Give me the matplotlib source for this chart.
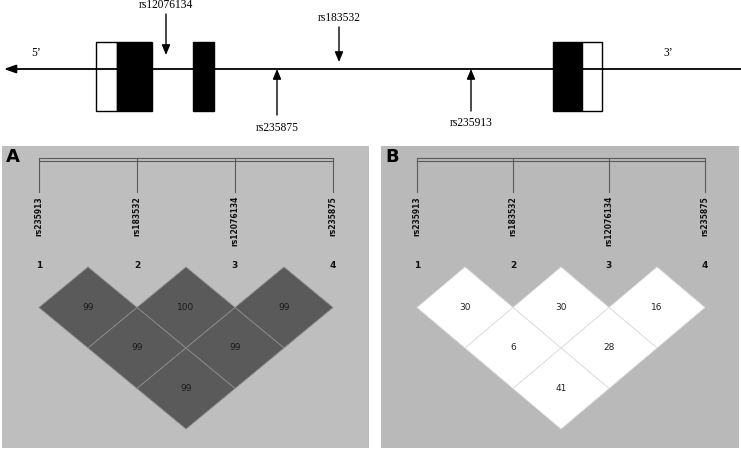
import numpy as np
import matplotlib
matplotlib.use('Agg')
import matplotlib.pyplot as plt
from matplotlib.patches import Polygon, Rectangle

# --- data ---
snp_names = ['rs235913', 'rs183532', 'rs12076134', 'rs235875']
ld_pairs = [(0, 1), (1, 2), (2, 3), (0, 2), (1, 3), (0, 3)]
ld_A = [99, 100, 99, 99, 99, 99]     # D'
ld_B = [30, 30, 16, 6, 28, 41]       # r^2

# gene diagram (pixel positions along the drawn line)
exons = [(96, 117, 'white'), (117, 152, 'black'), (193, 214, 'black'),
         (553, 582, 'black'), (582, 602, 'white')]
gene_snps_above = [('rs12076134', 166, 14, 55, 5), ('rs183532', 339, 27, 62, 18)]
gene_snps_below = [('rs235875', 277, 115, 128), ('rs235913', 471, 111, 123)]

W, H = 741, 449
fig = plt.figure(figsize=(W / 100, H / 100), dpi=100)
ax = fig.add_axes([0, 0, 1, 1])
ax.set_xlim(0, W)
ax.set_ylim(H, 0)
ax.axis('off')

serif = 'Liberation Serif'

# gene line with arrow to the left
line_y = 69
ax.annotate('', xy=(4, line_y), xytext=(741, line_y),
            arrowprops=dict(arrowstyle='-|>,head_length=0.7,head_width=0.25',
                            color='black', lw=1.3, shrinkA=0, shrinkB=0))
for x0, x1, c in exons:
    ax.add_patch(Rectangle((x0, 42), x1 - x0, 69, facecolor=c,
                           edgecolor='black', lw=1.0, zorder=3))
ax.plot([96, 117], [line_y, line_y], color='black', lw=1.3, zorder=4)
ax.plot([582, 602], [line_y, line_y], color='black', lw=1.3, zorder=4)

for name, x, y0, y1, ty in gene_snps_above:
    ax.annotate('', xy=(x, y1), xytext=(x, y0),
                arrowprops=dict(arrowstyle='-|>,head_length=0.6,head_width=0.25',
                                color='black', lw=1.0, shrinkA=0, shrinkB=0))
    ax.text(x, ty, name, ha='center', va='center', fontsize=8.3,
            family=serif)
for name, x, y0, ty in gene_snps_below:
    ax.annotate('', xy=(x, line_y), xytext=(x, y0),
                arrowprops=dict(arrowstyle='-|>,head_length=0.6,head_width=0.25',
                                color='black', lw=1.0, shrinkA=0, shrinkB=0))
    ax.text(x, ty, name, ha='center', va='center', fontsize=8.3,
            family=serif)
ax.text(36, 53, "5\u2019", ha='center', va='center', fontsize=8.3, family=serif)
ax.text(668, 53, "3\u2019", ha='center', va='center', fontsize=8.3, family=serif)


def ld_panel(left, right, x_first, step, values, label, bg, fill, sep, txt):
    ax.add_patch(Rectangle((left, 146), right - left, 302, facecolor=bg,
                           edgecolor='none', zorder=0))
    ax.text(left + 11, 157, label, ha='center', va='center', fontsize=13,
            fontweight='bold', color='black')
    xs = x_first + step * np.arange(len(snp_names))
    # bracket
    ax.plot([xs[0], xs[-1]], [158, 158], color='#5a5a5a', lw=0.8)
    ax.plot([xs[0], xs[-1]], [161, 161], color='#5a5a5a', lw=0.8)
    for i, x in enumerate(xs):
        ax.plot([x, x], [158, 192], color='#5a5a5a', lw=0.8)
        ax.text(x, 196, snp_names[i], rotation=90, ha='center', va='top',
                fontsize=5.5, fontweight='bold', color='#111111')
        ax.text(x, 266, str(i + 1), ha='center', va='center', fontsize=6.5,
                fontweight='bold', color='#111111')
    hw, hh = step / 2, 40.5
    top = 267
    for (i, j), v in zip(ld_pairs, values):
        cx = (xs[i] + xs[j]) / 2
        cy = top + (j - i) * hh
        pts = [(cx, cy - hh), (cx + hw, cy), (cx, cy + hh), (cx - hw, cy)]
        ax.add_patch(Polygon(pts, closed=True, facecolor=fill, edgecolor=sep,
                             lw=0.6, zorder=2))
        ax.text(cx, cy, str(v), ha='center', va='center', fontsize=6.5,
                color=txt, zorder=3)


ld_panel(2, 369, 39, 98, ld_A, 'A', '#bebebe', '#5a5a5a', '#8c8c8c', '#1a1a1a')
ld_panel(381, 739, 417, 96, ld_B, 'B', '#b9b9b9', '#ffffff', '#dddddd', '#222222')

fig.savefig('out.png', dpi=100)
